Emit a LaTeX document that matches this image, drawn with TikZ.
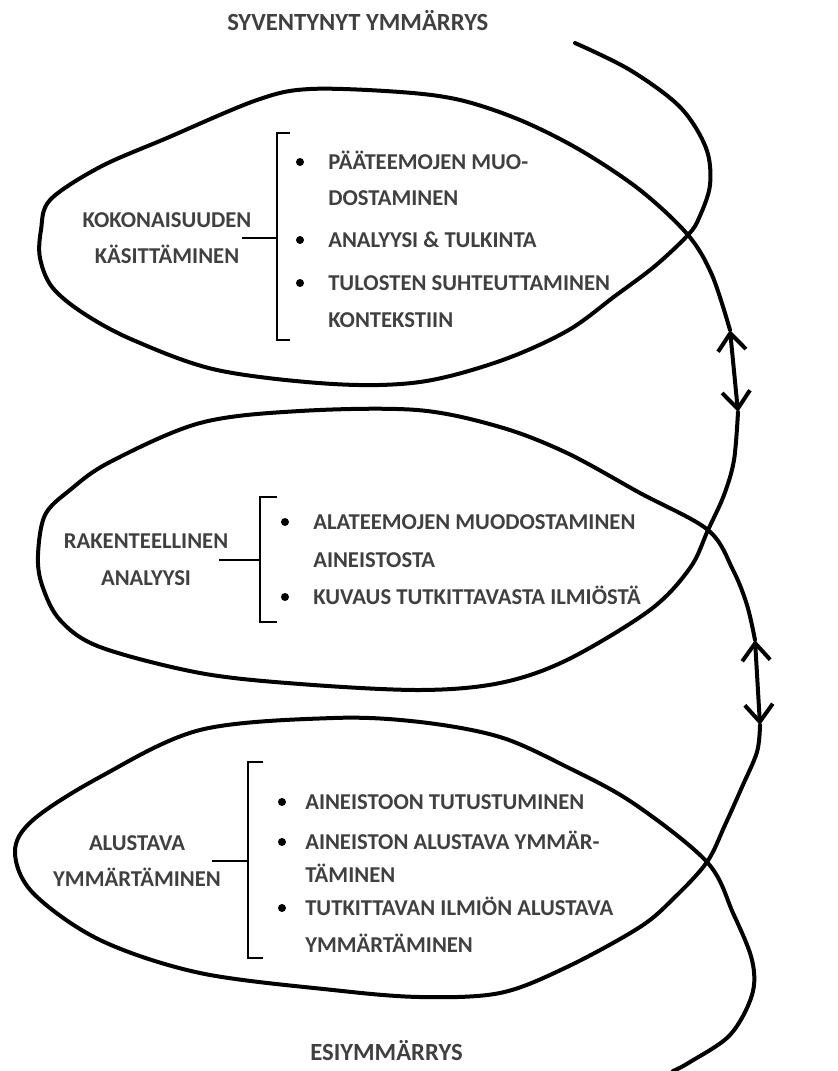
\documentclass[tikz,border=0pt]{standalone}
\usepackage{fontspec}
\setmainfont{Carlito}
\usetikzlibrary{arrows.meta}

\begin{document}
\begin{tikzpicture}[x=0.75pt, y=-0.75pt,
    spiral/.style={line width=3pt, line cap=round, line join=round},
    brak/.style={line width=2pt},
    lab/.style={align=center, inner sep=0pt, text=black!75, font=\bfseries\fontsize{17}{27.5}\selectfont},
    item/.style={anchor=west, inner sep=0pt, text height=11pt, text depth=0pt, text=black!75, font=\bfseries\fontsize{17}{20}\selectfont},
    title/.style={anchor=west, inner sep=0pt, text height=12pt, text depth=0pt, text=black!75, font=\bfseries\fontsize{18.5}{22}\selectfont},
    bul/.style={circle, fill=black, inner sep=0pt, minimum size=6pt},
    >={Straight Barb[length=13pt,width=21pt]}]
    \useasboundingbox (0,0) rectangle (838,1071);

    \node[title] (deep) at (227,22) {SYVENTYNYT YMMÄRRYS};
    \node[title] (pre) at (310,1052) {ESIYMMÄRRYS};

    \coordinate (up1) at (730,330);
    \coordinate (dn1) at (738,412);
    \coordinate (up2) at (755,640);
    \coordinate (dn2) at (760,725);

    \draw[spiral] plot[smooth, tension=0.55] coordinates {(575,43) (630,70) (680,107) (706,148) (710,185) (699,218) (688,235) (655,266) (615,296) (567,331) (500,361) (420,382) (333,384) (217,370) (133,340) (83,313) (52,287) (40,258) (41,230) (50,200) (100,167) (167,138) (257,100) (310,89) (400,92) (460,100) (520,120) (580,150) (640,190) (688,235) (712,275) (730,330)};
    \draw[spiral] plot[smooth, tension=0.55] coordinates {(738,412) (734,460) (724,495) (708,530) (690,568) (650,610) (567,660) (500,683) (420,690) (300,684) (200,673) (100,647) (60,620) (42,585) (38,555) (45,515) (70,490) (110,462) (200,423) (300,411) (417,410) (500,427) (567,453) (640,493) (708,530) (733,570) (747,605) (755,640)};
    \draw[spiral] plot[smooth, tension=0.55] coordinates {(760,725) (757,752) (742,787) (725,825) (707,862) (675,897) (640,927) (567,967) (500,993) (420,997) (333,990) (200,973) (100,940) (33,893) (15,852) (33,820) (100,777) (200,730) (333,718) (420,722) (500,737) (567,767) (633,803) (707,862) (733,913) (752,960) (752,995) (730,1035) (690,1062) (673,1071)};

    \draw[spiral, <->] (up1) -- (dn1);
    \draw[spiral, <->] (up2) -- (dn2);

    \node[lab] (whole) at (167,238) {KOKONAISUUDEN\\KÄSITTÄMINEN};
    \coordinate (k1) at (277,238);
    \draw[brak] (290,133) -| (277,340) -- (290,340);
    \draw[brak] ([xshift=-7pt]whole.east) -- (k1);
    \node[bul] (d1a) at (300,162) {};
    \node[bul] (d1b) at (300,240) {};
    \node[bul] (d1c) at (300,283) {};
    \node[item] (t1a) at (328,162) {PÄÄTEEMOJEN MUO-};
    \node[item] (t1b) at (328,198) {DOSTAMINEN};
    \node[item] (t1c) at (328,240) {ANALYYSI \& TULKINTA};
    \node[item] (t1d) at (328,283) {TULOSTEN SUHTEUTTAMINEN};
    \node[item] (t1e) at (328,320) {KONTEKSTIIN};

    \node[lab] (struct) at (146,560) {RAKENTEELLINEN\\ANALYYSI};
    \coordinate (k2) at (260,560);
    \draw[brak] (277,497) -| (260,622) -- (277,622);
    \draw[brak] ([xshift=-7pt]struct.east) -- (k2);
    \node[bul] (d2a) at (285,522) {};
    \node[bul] (d2b) at (285,597) {};
    \node[item] (t2a) at (313,522) {ALATEEMOJEN MUODOSTAMINEN};
    \node[item] (t2b) at (313,560) {AINEISTOSTA};
    \node[item] (t2c) at (313,597) {KUVAUS TUTKITTAVASTA ILMIÖSTÄ};

    \node[lab] (first) at (137,861) {ALUSTAVA\\YMMÄRTÄMINEN};
    \coordinate (k3) at (248,861);
    \draw[brak] (263,762) -| (248,958) -- (263,958);
    \draw[brak] ([xshift=-7pt]first.east) -- (k3);
    \node[bul] (d3a) at (282,802) {};
    \node[bul] (d3b) at (282,842) {};
    \node[bul] (d3c) at (282,908) {};
    \node[item] (t3a) at (305,802) {AINEISTOON TUTUSTUMINEN};
    \node[item] (t3b) at (305,842) {AINEISTON ALUSTAVA YMMÄR-};
    \node[item] (t3c) at (305,875) {TÄMINEN};
    \node[item] (t3d) at (305,908) {TUTKITTAVAN ILMIÖN ALUSTAVA};
    \node[item] (t3e) at (305,945) {YMMÄRTÄMINEN};
\end{tikzpicture}
\end{document}
